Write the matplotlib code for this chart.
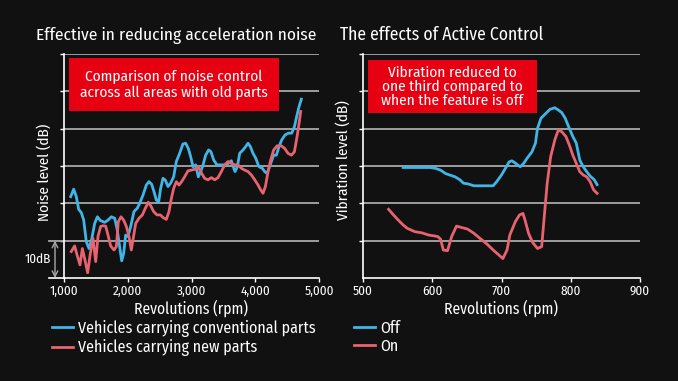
import matplotlib
matplotlib.use("Agg")
import matplotlib.pyplot as plt
from matplotlib.patches import Rectangle
from matplotlib import font_manager

names = {f.name for f in font_manager.fontManager.ttflist}
FONT = 'Open Sans'
for cand in ['Fira Sans Condensed', 'PT Sans Narrow', 'Roboto Condensed']:
    if cand in names:
        FONT = cand
        break
plt.rcParams['font.family'] = [FONT, 'DejaVu Sans']

BG = '#111111'
BLUE = '#3fb5e8'
RED = '#e8626f'
GRID = '#a8a8a8'

# ---- data: left chart (noise level, dB above baseline) ----
noise_rpm_conv = [1105, 1152, 1193, 1230, 1272, 1309, 1350, 1392, 1434, 1481, 1523, 1570, 1638, 1690, 1743,
                  1795, 1831, 1873, 1905, 1936, 1967, 2004, 2046, 2098, 2150, 2187, 2239, 2291, 2333, 2375,
                  2412, 2448, 2485, 2516, 2553, 2590, 2631, 2673, 2720, 2762, 2814, 2866, 2908, 2950, 2987,
                  3024, 3065, 3107, 3144, 3181, 3222, 3269, 3306, 3348, 3400, 3468, 3547, 3625, 3651, 3683,
                  3719, 3756, 3808, 3850, 3887, 3923, 3965, 4007, 4059, 4111, 4148, 4185, 4216, 4253, 4289,
                  4331, 4373, 4415, 4467, 4520, 4572, 4614, 4656, 4687, 4723]
noise_db_conv = [21.8, 23.8, 21.8, 18.4, 17.5, 15.5, 9.7, 7.9, 10.4, 14.6, 16.4, 15.4, 14.9, 15.5, 16.4,
                 16.0, 13.3, 8.4, 4.6, 6.6, 11.5, 11.1, 13.8, 17.8, 18.7, 20.0, 22.2, 24.9, 25.8, 25.1,
                 23.1, 20.9, 20.4, 24.0, 26.7, 26.2, 24.5, 25.4, 27.1, 31.2, 33.4, 35.9, 36.1, 34.7, 32.5,
                 29.8, 30.3, 27.1, 28.5, 30.3, 32.9, 34.3, 33.8, 31.6, 30.3, 30.3, 30.3, 31.4, 30.0, 28.5,
                 29.8, 33.4, 34.3, 35.2, 36.1, 35.2, 33.4, 32.1, 29.8, 29.4, 28.5, 28.0, 29.4, 31.2, 32.9,
                 32.9, 35.2, 37.0, 38.3, 38.8, 38.8, 40.5, 43.7, 45.9, 47.9]
noise_rpm_new = [1115, 1167, 1204, 1251, 1288, 1329, 1371, 1413, 1455, 1497, 1533, 1575, 1612, 1654, 1690,
                 1732, 1784, 1821, 1852, 1894, 1936, 1978, 2020, 2056, 2082, 2124, 2176, 2229, 2276, 2323,
                 2359, 2406, 2458, 2511, 2553, 2605, 2647, 2684, 2720, 2762, 2804, 2845, 2892, 2945, 2997,
                 3049, 3107, 3154, 3206, 3259, 3311, 3363, 3416, 3468, 3520, 3573, 3625, 3678, 3730, 3782,
                 3834, 3887, 3939, 3992, 4044, 4085, 4122, 4159, 4201, 4242, 4289, 4342, 4410, 4462, 4514,
                 4567, 4614, 4656, 4687, 4713]
noise_db_new = [7.1, 8.6, 6.2, 3.5, 7.9, 4.8, 1.4, 6.6, 10.6, 4.4, 11.1, 13.8, 14.0, 13.9, 11.5,
                8.6, 7.5, 8.4, 15.1, 16.4, 15.5, 13.8, 11.1, 7.5, 10.2, 14.6, 16.0, 16.9, 18.7, 20.3,
                19.4, 17.8, 16.9, 16.9, 16.2, 15.7, 17.8, 21.3, 24.0, 25.8, 24.9, 25.8, 27.1, 28.7, 28.9,
                29.1, 29.8, 28.2, 26.7, 26.3, 26.9, 26.3, 26.9, 28.5, 30.3, 31.2, 30.7, 30.3, 30.3, 29.4,
                28.9, 28.5, 27.6, 26.3, 24.9, 23.6, 22.7, 24.5, 28.5, 31.6, 34.3, 35.4, 35.4, 34.7, 33.4,
                32.9, 33.8, 37.9, 41.4, 44.6]

# ---- data: right chart (vibration level) ----
vib_rpm_off = [558, 568, 578, 587, 597, 604, 612, 619, 625, 633, 640, 645, 652, 660, 669, 679, 688, 693,
               700, 707, 711, 715, 719, 727, 732, 737, 744, 749, 752, 757, 763, 770, 777, 782, 787, 792,
               797, 803, 808, 811, 813, 818, 823, 828, 834, 838]
vib_db_off = [29.6, 29.6, 29.6, 29.6, 29.6, 29.4, 28.9, 28.0, 27.6, 27.1, 26.3, 25.4, 25.2, 24.7, 24.7,
              24.7, 24.7, 25.8, 27.6, 29.8, 31.1, 31.4, 30.9, 29.8, 30.7, 32.1, 33.8, 36.1, 40.1, 42.8,
              43.9, 45.2, 45.6, 45.0, 44.3, 42.8, 40.5, 37.9, 36.1, 33.4, 31.6, 29.8, 28.5, 27.3, 26.3, 25.0]
vib_rpm_on = [537, 544, 551, 558, 564, 575, 585, 595, 602, 608, 612, 616, 622, 628, 635, 643, 651, 660,
              669, 679, 688, 696, 702, 708, 712, 720, 726, 731, 734, 739, 745, 752, 758, 763, 766, 771,
              777, 782, 787, 793, 798, 803, 808, 813, 818, 823, 828, 833, 838]
vib_db_on = [18.4, 16.9, 15.5, 14.2, 13.3, 12.4, 12.1, 11.5, 11.3, 11.1, 10.4, 7.5, 7.3, 11.1, 13.9, 13.5,
             13.1, 12.0, 10.6, 9.1, 7.5, 6.2, 5.2, 7.5, 11.5, 15.1, 16.9, 17.3, 15.5, 12.0, 9.5, 7.9, 8.4,
             19.1, 25.4, 32.5, 37.0, 39.6, 39.2, 37.9, 35.6, 32.9, 30.7, 28.5, 27.6, 27.1, 25.8, 23.6, 22.7]

left_xticks = [1000, 2000, 3000, 4000, 5000]
left_xlabels = ['1,000', '2,000', '3,000', '4,000', '5,000']
right_xticks = [500, 600, 700, 800, 900]
grid_levels = [10, 20, 30, 40, 50, 60]

W, H = 678, 381
fig = plt.figure(figsize=(W / 100, H / 100), dpi=100, facecolor=BG)


def px_axes(x0, x1, y_top, y_bot):
    return fig.add_axes([x0 / W, (H - y_bot) / H, (x1 - x0) / W, (y_bot - y_top) / H])


def style(ax, xlim, xticks, xlabels):
    ax.set_facecolor(BG)
    ax.set_xlim(*xlim)
    ax.set_ylim(0, 60)
    for s in ['top', 'right']:
        ax.spines[s].set_visible(False)
    for s in ['left', 'bottom']:
        ax.spines[s].set_color('white')
        ax.spines[s].set_linewidth(1.2)
    for g in grid_levels:
        ax.axhline(g, color=GRID, lw=1.3, zorder=1)
    ax.set_yticks(grid_levels)
    ax.set_yticklabels([])
    ax.tick_params(axis='y', length=3, color='white', width=1)
    ax.set_xticks(xticks)
    ax.set_xticklabels(xlabels)
    ax.tick_params(axis='x', length=3, color='white', width=1, labelcolor='white',
                   labelsize=9.5, pad=2)
    ax.set_xlabel('Revolutions (rpm)', color='white', fontsize=11.2, labelpad=1.5)


# left chart
ax1 = px_axes(64, 319, 54, 278)
style(ax1, (1000, 5000), left_xticks, left_xlabels)
l1, = ax1.plot(noise_rpm_conv, noise_db_conv, color=BLUE, lw=2, zorder=3,
               label='Vehicles carrying conventional parts')
l2, = ax1.plot(noise_rpm_new, noise_db_new, color=RED, lw=2, zorder=3,
               label='Vehicles carrying new parts')
ext = -15 / 255
ax1.axhline(10, xmin=ext, xmax=0, color=GRID, lw=1.3, clip_on=False)
ax1.axhline(0, xmin=ext, xmax=0, color='white', lw=1.2, clip_on=False)
ax1.annotate('', xy=(-9 / 255, 0), xycoords=('axes fraction', 'data'),
             xytext=(-9 / 255, 10), textcoords=('axes fraction', 'data'),
             arrowprops=dict(arrowstyle='<->', color=GRID, lw=1, shrinkA=0, shrinkB=0),
             annotation_clip=False)
ax1.text(-13 / 255, 5, '10dB', transform=ax1.get_yaxis_transform(), ha='right', va='center',
         color='white', fontsize=9.5)

# right chart
ax2 = px_axes(363, 640, 54, 278)
style(ax2, (500, 900), right_xticks, [str(v) for v in right_xticks])
l3, = ax2.plot(vib_rpm_off, vib_db_off, color=BLUE, lw=2, zorder=3, label='Off')
l4, = ax2.plot(vib_rpm_on, vib_db_on, color=RED, lw=2, zorder=3, label='On')

# y labels
fig.text(44 / W, 1 - 172 / H, 'Noise level (dB)', color='white', fontsize=11, rotation=90,
         ha='center', va='center')
fig.text(343 / W, 1 - 160 / H, 'Vibration level (dB)', color='white', fontsize=11, rotation=90,
         ha='center', va='center')

# titles
fig.text(36 / W, 1 - 35 / H, 'Effective in reducing acceleration noise', color='white',
         fontsize=12.5, ha='left', va='center')
fig.text(340 / W, 1 - 35 / H, 'The effects of Active Control', color='white',
         fontsize=12.7, ha='left', va='center')

# red boxes
BOXRED = '#e60012'
fig.patches.append(Rectangle((69 / W, 1 - 111 / H), 210 / W, 53 / H, transform=fig.transFigure,
                             facecolor=BOXRED, edgecolor='none', zorder=5))
fig.text(174 / W, 1 - 84.5 / H, 'Comparison of noise control\nacross all areas with old parts',
         color='white', fontsize=11, ha='center', va='center', linespacing=1.15, zorder=6)
fig.patches.append(Rectangle((368 / W, 1 - 113 / H), 169 / W, 53 / H, transform=fig.transFigure,
                             facecolor=BOXRED, edgecolor='none', zorder=5))
fig.text(452.5 / W, 1 - 86.5 / H, 'Vibration reduced to\none third compared to\nwhen the feature is off',
         color='white', fontsize=11, ha='center', va='center', linespacing=0.98, zorder=6)

# legends
leg_kw = dict(frameon=False, labelcolor='white', fontsize=11.5, handlelength=1.3, handletextpad=0.35,
              labelspacing=0.15, borderaxespad=0, borderpad=0)
fig.legend(handles=[l1, l2], loc='upper left', bbox_to_anchor=(52 / W, 1 - 320 / H), **leg_kw)
fig.legend(handles=[l3, l4], loc='upper left', bbox_to_anchor=(354 / W, 1 - 320 / H), **leg_kw)

fig.savefig('out.png', dpi=100, facecolor=BG)
